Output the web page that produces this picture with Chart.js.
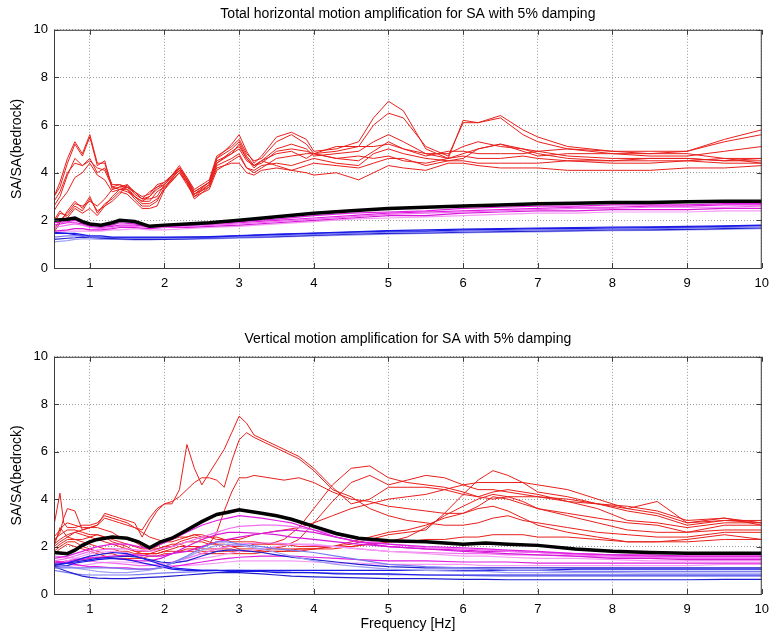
<!DOCTYPE html>
<html>
<head>
<meta charset="utf-8">
<script src="https://cdn.jsdelivr.net/npm/chart.js@4.4.0/dist/chart.umd.min.js"></script>
<style>
  body { margin: 0; background: #fff; }
  canvas { position: absolute; left: 0; }
  #top { top: 0; }
  #bottom { top: 318px; }
</style>
</head>
<body>
<canvas id="top" width="777" height="300"></canvas>
<canvas id="bottom" width="777" height="318"></canvas>
<script>
// ---- horizontal (top panel) ----
const freqH = [0.52,0.6,0.7,0.8,0.9, 1.0,1.1,1.2,1.3,1.4, 1.5,1.6,1.7,1.8,1.9,
  2.0,2.2,2.3,2.4,2.6, 2.7,2.9,3.0,3.1,3.2, 3.3,3.5,3.7,3.9,4.0,
  4.3,4.6,4.8,5.0,5.2, 5.5,5.8,6.0,6.2,6.5, 6.8,7.0,7.4,8.0,8.5, 9.0,9.5,10.0];

const hRed1 = [3.0,3.6,4.6,5.3,4.8, 5.6,4.4,4.4,3.4,3.5, 3.4,3.2,3.0,3.1,3.5, 3.6,4.2,3.7,3.2,3.6,
  4.6,5.2,5.6,4.9,4.4, 4.7,5.5,5.7,5.4,4.9, 5.0,5.3,6.3,7.0,6.6, 5.0,4.6,6.2,6.1,6.4,
  5.8,5.5,5.1,4.9,4.8, 4.8,4.6,4.4];
const hRed2 = [3.0,3.4,4.4,5.2,4.7, 5.5,4.3,4.5,3.3,3.4, 3.5,3.1,2.9,3.2,3.4, 3.5,4.3,3.8,3.3,3.7,
  4.7,5.1,5.4,4.8,4.5, 4.6,5.3,5.6,5.2,4.8, 4.9,5.1,6.0,6.5,6.3, 5.1,4.7,6.1,6.1,6.3,
  5.6,5.3,5.0,4.9,4.9, 4.9,5.4,5.8];
const hRed3 = [2.6,3.0,3.9,4.6,4.3, 4.5,4.2,4.1,3.4,3.3, 3.2,3.0,2.8,2.8,3.2, 3.4,4.1,3.6,3.1,3.5,
  4.4,4.9,5.1,4.6,4.2, 4.5,5.0,5.2,5.0,4.7, 4.8,4.9,5.3,5.6,5.3, 4.8,4.6,4.8,5.0,5.2,
  4.9,4.7,4.8,4.8,4.8, 4.9,5.3,5.6];
const hRed4 = [1.5,1.9,2.4,2.8,2.5, 3.0,2.3,2.7,2.9,3.2, 3.1,2.8,2.5,2.5,2.6, 3.3,4.2,3.7,3.1,3.4,
  4.3,4.6,4.8,4.2,4.0, 4.2,4.6,4.7,4.8,4.8, 4.6,4.5,4.9,5.3,5.0, 4.7,4.9,4.9,4.8,4.8,
  4.8,4.9,5.0,4.8,4.7, 4.7,4.9,5.1];
const hRed5 = [1.9,2.3,2.2,2.6,2.4, 2.9,2.4,2.6,3.0,3.3, 3.3,2.9,2.6,2.6,2.8, 3.4,4.0,3.5,3.0,3.3,
  4.1,4.5,4.7,4.2,4.1, 4.3,4.4,4.3,4.5,4.6, 4.4,4.3,4.8,5.0,4.8, 4.6,4.5,4.6,5.0,5.2,
  5.0,4.9,4.7,4.6,4.6, 4.6,4.5,4.6];
const hRed6 = [2.0,2.4,2.1,2.5,2.3, 2.5,2.2,2.6,2.8,3.1, 3.5,3.2,2.9,2.9,3.0, 3.5,4.2,3.8,3.2,3.6,
  4.5,4.8,5.0,4.5,4.3, 4.5,4.3,4.1,4.3,4.4, 4.3,4.2,4.4,4.6,4.6, 4.3,4.5,4.5,4.4,4.4,
  4.4,4.4,4.5,4.4,4.4, 4.5,4.6,4.6];
const hRed7 = [1.6,2.0,2.3,2.7,2.6, 2.8,2.6,2.9,3.3,3.4, 3.4,3.0,2.7,2.7,2.9, 3.3,4.0,3.6,2.9,3.4,
  4.2,4.4,4.4,4.0,3.9, 4.1,4.2,4.1,4.0,3.9, 4.0,3.7,4.0,4.3,4.2, 4.1,4.4,4.4,4.3,4.2,
  4.2,4.2,4.1,4.1,4.1, 4.2,4.2,4.3];
const hRed8 = [2.4,2.8,3.2,3.8,4.0, 4.4,3.9,3.7,3.2,3.3, 3.4,3.2,2.9,3.0,3.3, 3.5,4.1,3.6,3.0,3.5,
  4.4,4.8,5.2,4.6,4.3, 4.4,4.9,5.0,4.9,4.8, 4.6,4.7,4.6,4.7,4.5, 4.4,4.6,4.7,4.6,4.6,
  4.7,4.6,4.5,4.5,4.6, 4.6,4.5,4.5];
const hRed9 = [2.8,3.2,4.0,4.4,4.3, 4.6,4.0,4.2,3.5,3.5, 3.3,3.0,2.8,3.0,3.4, 3.6,4.2,3.7,3.1,3.6,
  4.6,5.0,5.3,4.7,4.3, 4.5,4.8,4.9,4.6,4.8, 5.1,5.1,5.1,5.2,5.0, 4.8,4.8,5.1,5.3,5.1,
  5.0,4.8,4.6,4.5,4.5, 4.5,4.4,4.4];

const freqHs = [0.52,0.7,0.8,0.9,1.0, 1.15,1.3,1.4,1.6,1.8, 2.0,2.3,2.6,3.0,3.5,
  4.0,4.5,5.0,5.5,6.0, 6.5,7.0,7.5,8.0,8.5, 9.0,9.5,10.0];
const hBlack = [2.0,2.05,2.1,1.95,1.85, 1.8,1.9,2.0,1.95,1.75, 1.8,1.85,1.9,2.0,2.15,
  2.3,2.4,2.5,2.55,2.6, 2.65,2.7,2.72,2.75,2.75, 2.78,2.8,2.8];
const hMag1 = [1.9,1.95,2.0,1.9,1.8, 1.75,1.8,1.9,1.85,1.7, 1.75,1.8,1.85,1.95,2.05,
  2.2,2.3,2.35,2.4,2.5, 2.55,2.6,2.6,2.65,2.65, 2.65,2.7,2.7];
const hMag2 = [1.7,1.8,1.85,1.8,1.7, 1.65,1.7,1.75,1.75,1.7, 1.7,1.75,1.8,1.85,1.95,
  2.05,2.15,2.25,2.3,2.35, 2.4,2.45,2.5,2.5,2.55, 2.55,2.55,2.6];
const hMag3 = [1.55,1.6,1.65,1.65,1.6, 1.6,1.65,1.7,1.7,1.65, 1.7,1.7,1.75,1.8,1.9,
  2.0,2.1,2.2,2.2,2.3, 2.35,2.4,2.4,2.45,2.45, 2.45,2.5,2.5];
const hMag4 = [1.5,1.55,1.55,1.55,1.55, 1.55,1.6,1.6,1.65,1.6, 1.6,1.65,1.7,1.75,1.85,
  1.95,2.05,2.1,2.15,2.2, 2.25,2.3,2.3,2.35,2.35, 2.35,2.4,2.4];
const hMag5 = [1.8,1.9,1.9,1.85,1.75, 1.7,1.75,1.8,1.8,1.75, 1.75,1.75,1.8,1.9,2.0,
  2.1,2.2,2.3,2.35,2.4, 2.45,2.5,2.55,2.55,2.6, 2.6,2.65,2.65];
const hBlue1 = [1.45,1.45,1.45,1.4,1.35, 1.35,1.3,1.3,1.3,1.3, 1.3,1.3,1.3,1.35,1.4,
  1.45,1.5,1.55,1.55,1.6, 1.62,1.65,1.65,1.68,1.7, 1.72,1.75,1.78];
const hBlue2 = [1.3,1.35,1.35,1.35,1.3, 1.3,1.28,1.27,1.25,1.25, 1.25,1.25,1.27,1.3,1.35,
  1.4,1.45,1.5,1.5,1.55, 1.57,1.6,1.6,1.63,1.65, 1.67,1.7,1.72];
const hBlue3 = [1.2,1.25,1.27,1.3,1.28, 1.25,1.23,1.22,1.2,1.2, 1.2,1.22,1.25,1.28,1.32,
  1.37,1.42,1.45,1.47,1.5, 1.53,1.55,1.57,1.6,1.6, 1.62,1.65,1.68];
const hBlue4 = [1.1,1.15,1.2,1.22,1.22, 1.2,1.2,1.2,1.18,1.18, 1.2,1.2,1.22,1.25,1.3,
  1.35,1.38,1.42,1.45,1.47, 1.5,1.52,1.55,1.57,1.58, 1.6,1.62,1.65];
const hBlue5 = [1.5,1.45,1.4,1.35,1.3, 1.28,1.27,1.27,1.27,1.27, 1.28,1.3,1.32,1.36,1.42,
  1.47,1.52,1.57,1.6,1.63, 1.65,1.68,1.7,1.72,1.73, 1.75,1.77,1.8];

// ---- vertical (bottom panel) ----
const freqV = [0.52,0.6,0.65,0.7,0.8, 0.9,1.0,1.1,1.2,1.3, 1.4,1.5,1.6,1.7,1.8,
  1.9,2.0,2.1,2.2,2.3, 2.4,2.5,2.6,2.7,2.8, 2.9,3.0,3.1,3.2,3.4,
  3.6,3.8,4.0,4.25,4.5, 4.75,5.0,5.25,5.5,5.75, 6.0,6.2,6.4,6.6,6.8,
  7.0,7.4,7.8,8.2,8.6, 9.0,9.5,10.0];

const vRed1 = [2.9,4.25,3.0,2.8,2.8, 2.9,2.9,3.0,3.3,3.2, 3.1,3.0,2.8,2.7,3.2, 3.6,3.8,3.8,4.4,6.3,
  5.3,4.6,5.1,5.6,6.1, 6.8,7.5,7.2,6.7,6.4, 6.1,5.8,5.3,4.5,3.8, 4.0,4.5,4.5,4.5,4.4,
  4.2,4.1,4.3,4.4,4.3, 4.2,3.9,3.8,3.5,3.3, 2.9,3.1,3.1];
const vRed2 = [2.2,2.6,3.2,3.6,3.5, 2.7,2.8,2.9,3.4,3.3, 3.2,3.1,3.0,2.4,3.0, 3.5,3.8,3.9,4.1,4.4,
  4.7,4.9,4.9,4.8,4.5, 5.6,6.5,6.8,6.6,6.3, 6.0,5.7,5.2,4.4,4.1, 3.6,3.3,3.1,3.0,2.9,
  2.9,3.0,3.2,3.3,3.1, 3.0,2.8,2.6,2.5,2.4, 2.4,2.6,2.6];
const vRed3 = [2.0,2.8,2.6,2.7,2.7, 2.6,2.5,2.5,2.4,2.3, 2.2,2.1,2.0,1.9,1.9, 1.9,2.0,2.1,2.1,2.0,
  2.0,2.0,2.1,2.6,3.5, 4.3,4.9,4.9,5.0,4.9, 4.8,4.9,4.7,4.3,4.0, 3.9,3.7,3.6,3.5,3.4,
  3.4,3.7,4.1,4.0,3.8, 3.6,3.4,3.2,3.0,2.9, 2.6,2.9,2.9];
const vRed4 = [2.1,2.3,2.4,2.5,2.6, 2.5,2.4,2.5,2.4,2.2, 2.1,2.0,1.8,1.7,1.7, 1.8,1.9,2.0,2.2,2.3,
  2.4,2.3,2.2,2.1,2.1, 2.0,2.0,2.0,2.1,2.1, 2.3,2.8,3.6,4.6,5.3, 5.4,4.9,4.7,4.6,4.5,
  4.3,4.1,4.0,4.1,4.1, 4.1,3.9,3.6,3.1,3.0, 2.8,3.0,3.0];
const vRed5 = [1.8,2.0,2.1,2.2,2.2, 2.0,1.9,1.8,1.7,1.7, 1.6,1.6,1.6,1.6,1.7, 1.7,1.8,1.8,1.8,1.9,
  1.9,1.8,1.8,1.8,1.8, 1.8,1.8,1.8,1.8,1.9, 2.0,2.3,3.0,3.9,4.7, 5.0,4.6,4.8,5.0,4.9,
  4.6,4.4,4.4,4.3,4.2, 4.1,4.0,3.8,3.6,3.9, 3.0,3.2,2.9];
const vRed6 = [2.0,2.2,2.3,2.4,2.6, 2.7,2.8,2.8,2.7,2.6, 2.4,2.3,2.2,2.0,1.9, 2.0,2.2,2.3,2.4,2.4,
  2.5,2.4,2.4,2.3,2.3, 2.2,2.2,2.2,2.2,2.1, 2.1,2.0,2.0,2.0,2.1, 2.3,2.5,2.6,2.7,3.4,
  4.2,4.8,5.2,5.0,4.7, 4.3,4.1,3.8,3.7,3.5, 3.1,3.2,3.0];
const vRed7 = [2.3,2.5,2.6,2.4,2.3, 2.3,2.4,2.3,2.2,2.1, 2.0,1.9,1.8,1.8,1.8, 1.9,2.0,2.0,2.1,2.2,
  2.2,2.2,2.1,2.1,2.0, 2.0,1.9,1.9,1.9,1.9, 1.9,1.9,1.9,2.0,2.0, 2.1,2.2,2.4,2.8,3.3,
  3.7,4.0,4.2,4.1,3.9, 3.6,3.3,3.0,2.7,2.6, 2.6,2.7,2.7];
const vRed8 = [1.9,2.1,2.2,2.3,2.3, 2.2,2.1,2.0,1.9,1.9, 1.8,1.8,1.7,1.7,1.7, 1.7,1.8,1.9,2.0,2.0,
  2.0,1.9,1.9,1.9,1.9, 1.9,1.8,1.8,1.8,1.8, 1.8,1.9,1.9,2.0,2.2, 2.4,2.6,2.7,2.9,3.2,
  3.4,3.6,3.7,3.5,3.2, 2.9,2.6,2.4,2.2,2.2, 2.3,2.5,2.3];
const vRed9 = [2.4,2.7,2.9,3.0,2.9, 2.8,2.8,2.9,3.2,3.1, 3.0,2.9,2.8,2.6,2.4, 2.3,2.2,2.2,2.3,2.4,
  2.5,2.5,2.4,2.4,2.3, 2.3,2.3,2.4,2.5,2.6, 2.7,2.8,3.0,3.3,3.6, 3.8,4.0,4.1,4.2,4.4,
  4.6,4.7,4.7,4.7,4.7, 4.6,4.4,4.0,3.6,3.4, 3.0,3.1,3.0];
const vRed10 = [1.7,1.9,2.0,2.1,2.0, 1.9,1.8,1.7,1.6,1.5, 1.5,1.5,1.5,1.5,1.6, 1.6,1.7,1.7,1.8,1.8,
  1.8,1.7,1.7,1.7,1.7, 1.7,1.7,1.7,1.7,1.8, 1.8,1.8,1.9,1.9,2.0, 2.1,2.2,2.2,2.3,2.3,
  2.4,2.4,2.5,2.5,2.5, 2.4,2.4,2.3,2.2,2.2, 2.2,2.3,2.3];

const freqVs = [0.52,0.7,0.8,0.9,1.0, 1.1,1.3,1.5,1.65,1.8, 1.95,2.1,2.3,2.5,2.7,
  2.85,3.0,3.3,3.5,3.7, 4.0,4.3,4.6,5.0,5.5, 6.0,6.3,6.6,7.0,7.5, 8.0,8.5,9.0,9.5,10.0];
const vBlack = [1.75,1.7,1.85,2.05,2.2, 2.3,2.4,2.35,2.2,1.95, 2.2,2.35,2.7,3.05,3.35,
  3.45,3.55,3.4,3.3,3.15, 2.85,2.55,2.35,2.25,2.2, 2.1,2.15,2.1,2.05,1.9, 1.8,1.75,1.72,1.72,1.72];
const vMag1 = [1.5,1.6,1.7,1.8,1.9, 2.0,2.1,2.1,2.0,1.9, 2.1,2.3,2.6,2.9,3.1,
  3.2,3.3,3.2,3.1,3.0, 2.7,2.4,2.2,2.1,2.0, 1.95,1.9,1.85,1.8,1.7, 1.65,1.6,1.6,1.6,1.6];
const vMag2 = [1.4,1.5,1.6,1.7,1.8, 1.85,1.9,1.9,1.85,1.8, 1.9,2.0,2.2,2.4,2.6,
  2.75,2.85,2.9,2.9,2.85, 2.7,2.5,2.3,2.1,1.95, 1.9,1.85,1.8,1.75,1.65, 1.6,1.55,1.55,1.55,1.55];
const vMag3 = [1.3,1.35,1.4,1.45,1.5, 1.55,1.6,1.65,1.65,1.6, 1.6,1.7,1.8,2.0,2.2,
  2.3,2.4,2.55,2.65,2.7, 2.6,2.4,2.2,2.0,1.9, 1.8,1.75,1.7,1.65,1.6, 1.5,1.5,1.45,1.45,1.45];
const vMag4 = [1.2,1.4,1.5,1.6,1.7, 1.75,1.8,1.75,1.6,1.4, 1.3,1.3,1.4,1.5,1.6,
  1.7,1.8,1.9,2.0,2.1, 2.1,2.0,1.9,1.8,1.7, 1.6,1.6,1.55,1.5,1.5, 1.45,1.4,1.4,1.4,1.4];
const vMag5 = [1.4,1.3,1.25,1.2,1.15, 1.15,1.1,1.1,1.05,1.05, 1.1,1.15,1.25,1.35,1.45,
  1.5,1.55,1.6,1.6,1.6, 1.55,1.5,1.45,1.4,1.4, 1.35,1.35,1.35,1.3,1.3, 1.3,1.3,1.3,1.3,1.3];
const vMag6 = [1.6,1.55,1.5,1.45,1.4, 1.35,1.3,1.25,1.2,1.2, 1.25,1.35,1.5,1.7,1.9,
  2.0,2.1,2.15,2.15,2.1, 2.05,2.0,1.9,1.8,1.75, 1.7,1.7,1.65,1.65,1.6, 1.55,1.55,1.5,1.5,1.5];
const vMag7 = [1.3,1.4,1.45,1.5,1.55, 1.55,1.5,1.45,1.4,1.4, 1.5,1.7,2.0,2.3,2.5,
  2.6,2.6,2.55,2.5,2.4, 2.3,2.2,2.1,2.0,1.9, 1.85,1.8,1.8,1.75,1.7, 1.65,1.65,1.6,1.6,1.6];
const vMag8 = [1.1,1.15,1.2,1.2,1.25, 1.3,1.35,1.35,1.3,1.25, 1.2,1.2,1.2,1.25,1.3,
  1.35,1.4,1.4,1.4,1.4, 1.35,1.3,1.3,1.25,1.25, 1.25,1.2,1.2,1.2,1.2, 1.2,1.2,1.2,1.25,1.25];
const vBlue1 = [1.2,1.3,1.4,1.5,1.6, 1.65,1.75,1.7,1.55,1.4, 1.25,1.1,1.05,1.0,1.0,
  0.95,0.95,0.95,0.9,0.9, 0.9,0.85,0.85,0.85,0.8, 0.8,0.8,0.8,0.8,0.8, 0.8,0.8,0.8,0.8,0.8];
const vBlue2 = [1.1,1.1,1.1,1.1,1.1, 1.1,1.1,1.05,1.05,1.05, 1.1,1.3,1.6,1.95,2.2,
  2.2,2.1,2.0,1.9,1.85, 1.75,1.6,1.45,1.25,1.15, 1.1,1.05,1.0,1.0,0.95, 0.95,0.95,0.95,0.95,0.95];
const vBlue3 = [1.15,0.95,0.85,0.75,0.7, 0.67,0.65,0.65,0.68,0.7, 0.72,0.75,0.8,0.85,0.9,
  0.9,0.9,0.85,0.8,0.75, 0.72,0.7,0.68,0.65,0.65, 0.62,0.62,0.6,0.6,0.6, 0.6,0.6,0.6,0.62,0.62];
const vBlue4 = [1.2,1.15,1.1,1.05,1.0, 0.95,0.9,0.9,0.95,1.0, 1.1,1.3,1.55,1.85,2.05,
  2.1,2.05,1.9,1.75,1.6, 1.4,1.25,1.15,1.05,1.0, 0.95,0.95,0.9,0.9,0.9, 0.9,0.88,0.88,0.88,0.88];
const vBlue5 = [1.15,1.2,1.3,1.35,1.4, 1.45,1.5,1.45,1.35,1.25, 1.15,1.05,1.0,1.0,1.0,
  1.0,1.0,1.0,1.0,1.0, 1.0,1.0,1.0,1.0,1.0, 1.0,1.0,1.0,1.0,1.05, 1.05,1.05,1.05,1.05,1.05];
const vBlue6 = [1.0,0.9,0.85,0.82,0.8, 0.8,0.8,0.8,0.82,0.85, 0.88,0.9,0.92,0.95,0.98,
  1.0,1.0,0.98,0.95,0.92, 0.9,0.88,0.85,0.82,0.8, 0.78,0.76,0.75,0.75,0.75, 0.75,0.75,0.75,0.75,0.75];
const vBlue7 = [1.25,1.3,1.35,1.4,1.45, 1.5,1.55,1.6,1.55,1.45, 1.35,1.3,1.4,1.6,1.8,
  1.85,1.85,1.75,1.65,1.55, 1.45,1.35,1.25,1.15,1.1, 1.1,1.1,1.1,1.1,1.1, 1.1,1.1,1.1,1.1,1.1];

const RED = '#e8201c', BLACK = '#000000';
const MAGS = ['#e01ee0', '#f070f0', '#d818d8', '#f59af5'];
const BLUES = ['#1a1ae6', '#7a7af0', '#2020d0', '#a0a0f5'];
const FONT = "'Liberation Sans', Arial, sans-serif";

function line(freq, vals, color, width) {
  return {
    data: freq.map((f, i) => ({x: f, y: vals[i]})),
    borderColor: color, borderWidth: width,
    pointRadius: 0, tension: 0, fill: false
  };
}

// matlab style box with inward ticks
const boxPlugin = {
  id: 'box',
  afterDraw(chart) {
    const {ctx, chartArea: a, scales} = chart;
    ctx.save();
    ctx.strokeStyle = '#3c3c3c';
    ctx.lineWidth = 1;
    ctx.strokeRect(a.left + 0.5, a.top + 0.5, a.right - a.left - 1, a.bottom - a.top);
    ctx.beginPath();
    scales.x.ticks.forEach(t => {
      const px = Math.round(scales.x.getPixelForValue(t.value)) + 0.5;
      ctx.moveTo(px, a.bottom); ctx.lineTo(px, a.bottom - 5);
      ctx.moveTo(px, a.top); ctx.lineTo(px, a.top + 5);
    });
    scales.y.ticks.forEach(t => {
      const py = Math.round(scales.y.getPixelForValue(t.value)) + 0.5;
      ctx.moveTo(a.left, py); ctx.lineTo(a.left + 5, py);
      ctx.moveTo(a.right, py); ctx.lineTo(a.right - 5, py);
    });
    ctx.stroke();
    ctx.restore();
  }
};

function makeChart(id, title, titlePad, xHeight, xTitle, datasets) {
  return new Chart(document.getElementById(id), {
    type: 'line',
    data: {datasets},
    plugins: [boxPlugin],
    options: {
      responsive: false,
      animation: false,
      layout: {padding: {left: 0, right: 8, top: 0, bottom: 0}},
      plugins: {
        legend: {display: false},
        tooltip: {enabled: false},
        title: {
          display: true, text: title, fullSize: false, color: '#000',
          font: {family: FONT, size: 14, weight: 'normal'},
          padding: titlePad
        }
      },
      scales: {
        x: {
          type: 'linear', min: 0.52, max: 10,
          ticks: {stepSize: 1, includeBounds: false, padding: 8, maxRotation: 0,
            color: '#000', font: {family: FONT, size: 13}},
          grid: {color: '#9a9a9a', drawTicks: false},
          border: {display: false, dash: [1, 2]},
          title: {display: !!xTitle, text: xTitle || '', color: '#000',
            font: {family: FONT, size: 14}, padding: {top: 0, bottom: 3}},
          afterFit: s => { s.height = xHeight; }
        },
        y: {
          min: 0, max: 10,
          ticks: {stepSize: 2, padding: 6, color: '#000', font: {family: FONT, size: 13}},
          grid: {color: '#9a9a9a', drawTicks: false},
          border: {display: false, dash: [1, 2]},
          title: {display: true, text: 'SA/SA(bedrock)', color: '#000',
            font: {family: FONT, size: 14}, padding: {top: 9, bottom: 0}},
          afterFit: s => { s.width = 54; }
        }
      }
    }
  });
}

const topSets = [
  line(freqHs, hBlack, BLACK, 3.5),
  line(freqHs, hBlue1, BLUES[0], 1.2), line(freqHs, hBlue2, BLUES[1], 1.2),
  line(freqHs, hBlue3, BLUES[2], 1.2), line(freqHs, hBlue4, BLUES[3], 1.2),
  line(freqHs, hBlue5, BLUES[0], 1.2),
  line(freqHs, hMag1, MAGS[0], 1.2), line(freqHs, hMag2, MAGS[1], 1.2),
  line(freqHs, hMag3, MAGS[2], 1.2), line(freqHs, hMag4, MAGS[3], 1.2),
  line(freqHs, hMag5, MAGS[0], 1.2),
  ...[hRed1, hRed2, hRed3, hRed4, hRed5, hRed6, hRed7, hRed8, hRed9].map(v => line(freqH, v, RED, 1))
];

const bottomSets = [
  line(freqVs, vBlack, BLACK, 3.5),
  ...[vBlue1, vBlue2, vBlue3, vBlue4, vBlue5, vBlue6, vBlue7].map((v, i) => line(freqVs, v, BLUES[i % 4], 1.2)),
  ...[vMag1, vMag2, vMag3, vMag4, vMag5, vMag6, vMag7, vMag8].map((v, i) => line(freqVs, v, MAGS[i % 4], 1.2)),
  ...[vRed1, vRed2, vRed3, vRed4, vRed5, vRed6, vRed7, vRed8, vRed9, vRed10].map(v => line(freqV, v, RED, 1))
];

makeChart('top', 'Total horizontal motion amplification for SA with 5% damping',
  {top: 6, bottom: 7}, 32, null, topSets);
makeChart('bottom', 'Vertical motion amplification for SA with 5% damping',
  {top: 13, bottom: 9}, 42, 'Frequency [Hz]', bottomSets);
</script>
</body>
</html>
